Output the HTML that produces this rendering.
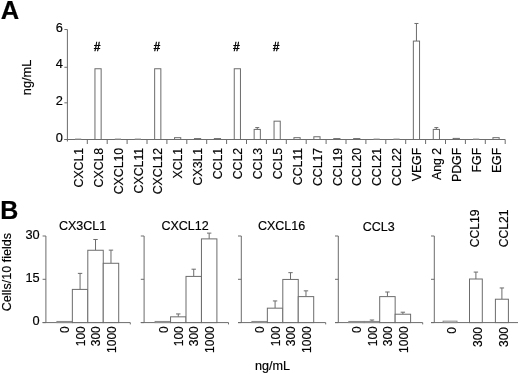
<!DOCTYPE html>
<html><head><meta charset="utf-8"><title>Figure</title>
<style>
html,body{margin:0;padding:0;background:#fff;}
svg{display:block;will-change:transform;}
text{font-family:"Liberation Sans",Arial,Helvetica,sans-serif;fill:#000;stroke:#000;stroke-width:0.18px;}
</style></head><body>
<svg width="520" height="374" viewBox="0 0 520 374">
<rect x="0" y="0" width="520" height="374" fill="#fff"/>
<text x="0.80" y="18.60" font-size="25.5" text-anchor="start" font-weight="bold">A</text>
<line x1="67.40" y1="29.50" x2="67.40" y2="141.50" stroke="#6c6c6c" stroke-width="1"/>
<line x1="64.40" y1="139.50" x2="67.40" y2="139.50" stroke="#6c6c6c" stroke-width="1"/>
<text x="62.90" y="141.80" font-size="12.8" text-anchor="end" font-weight="normal">0</text>
<line x1="64.40" y1="102.84" x2="67.40" y2="102.84" stroke="#6c6c6c" stroke-width="1"/>
<text x="62.90" y="105.14" font-size="12.8" text-anchor="end" font-weight="normal">2</text>
<line x1="64.40" y1="67.28" x2="67.40" y2="67.28" stroke="#6c6c6c" stroke-width="1"/>
<text x="62.90" y="68.48" font-size="12.8" text-anchor="end" font-weight="normal">4</text>
<line x1="64.40" y1="29.52" x2="67.40" y2="29.52" stroke="#6c6c6c" stroke-width="1"/>
<text x="62.90" y="31.82" font-size="12.8" text-anchor="end" font-weight="normal">6</text>
<line x1="64.40" y1="139.50" x2="505.20" y2="139.50" stroke="#6c6c6c" stroke-width="1"/>
<line x1="87.30" y1="139.50" x2="87.30" y2="144.00" stroke="#6c6c6c" stroke-width="1"/>
<line x1="75.05" y1="139.00" x2="81.25" y2="139.00" stroke="#999" stroke-width="1"/>
<text x="82.85" y="147.80" font-size="12.3" text-anchor="end" font-weight="normal" transform="rotate(-90 82.85 147.80)">CXCL1</text>
<line x1="107.20" y1="139.50" x2="107.20" y2="144.00" stroke="#6c6c6c" stroke-width="1"/>
<rect x="94.95" y="68.75" width="6.20" height="70.75" fill="#fff" stroke="#6c6c6c" stroke-width="1"/>
<text x="102.75" y="147.80" font-size="12.3" text-anchor="end" font-weight="normal" transform="rotate(-90 102.75 147.80)">CXCL8</text>
<line x1="127.10" y1="139.50" x2="127.10" y2="144.00" stroke="#6c6c6c" stroke-width="1"/>
<line x1="114.85" y1="139.00" x2="121.05" y2="139.00" stroke="#999" stroke-width="1"/>
<text x="122.65" y="147.80" font-size="12.3" text-anchor="end" font-weight="normal" transform="rotate(-90 122.65 147.80)">CXCL10</text>
<line x1="147.00" y1="139.50" x2="147.00" y2="144.00" stroke="#6c6c6c" stroke-width="1"/>
<line x1="134.75" y1="139.00" x2="140.95" y2="139.00" stroke="#999" stroke-width="1"/>
<text x="142.55" y="147.80" font-size="12.3" text-anchor="end" font-weight="normal" transform="rotate(-90 142.55 147.80)">CXCL11</text>
<line x1="166.90" y1="139.50" x2="166.90" y2="144.00" stroke="#6c6c6c" stroke-width="1"/>
<rect x="154.65" y="68.75" width="6.20" height="70.75" fill="#fff" stroke="#6c6c6c" stroke-width="1"/>
<text x="162.45" y="147.80" font-size="12.3" text-anchor="end" font-weight="normal" transform="rotate(-90 162.45 147.80)">CXCL12</text>
<line x1="186.80" y1="139.50" x2="186.80" y2="144.00" stroke="#6c6c6c" stroke-width="1"/>
<rect x="174.55" y="137.67" width="6.20" height="1.83" fill="#fff" stroke="#6c6c6c" stroke-width="1"/>
<text x="182.35" y="147.80" font-size="12.3" text-anchor="end" font-weight="normal" transform="rotate(-90 182.35 147.80)">XCL1</text>
<line x1="206.70" y1="139.50" x2="206.70" y2="144.00" stroke="#6c6c6c" stroke-width="1"/>
<rect x="194.45" y="138.58" width="6.20" height="0.92" fill="#fff" stroke="#6c6c6c" stroke-width="1"/>
<text x="202.25" y="147.80" font-size="12.3" text-anchor="end" font-weight="normal" transform="rotate(-90 202.25 147.80)">CX3L1</text>
<line x1="226.60" y1="139.50" x2="226.60" y2="144.00" stroke="#6c6c6c" stroke-width="1"/>
<rect x="214.35" y="138.58" width="6.20" height="0.92" fill="#fff" stroke="#6c6c6c" stroke-width="1"/>
<text x="222.15" y="147.80" font-size="12.3" text-anchor="end" font-weight="normal" transform="rotate(-90 222.15 147.80)">CCL1</text>
<line x1="246.50" y1="139.50" x2="246.50" y2="144.00" stroke="#6c6c6c" stroke-width="1"/>
<rect x="234.25" y="68.75" width="6.20" height="70.75" fill="#fff" stroke="#6c6c6c" stroke-width="1"/>
<text x="242.05" y="147.80" font-size="12.3" text-anchor="end" font-weight="normal" transform="rotate(-90 242.05 147.80)">CCL2</text>
<line x1="266.40" y1="139.50" x2="266.40" y2="144.00" stroke="#6c6c6c" stroke-width="1"/>
<line x1="257.25" y1="129.42" x2="257.25" y2="127.59" stroke="#6c6c6c" stroke-width="1"/>
<line x1="255.25" y1="127.59" x2="259.25" y2="127.59" stroke="#6c6c6c" stroke-width="1"/>
<rect x="254.15" y="129.42" width="6.20" height="10.08" fill="#fff" stroke="#6c6c6c" stroke-width="1"/>
<text x="261.95" y="147.80" font-size="12.3" text-anchor="end" font-weight="normal" transform="rotate(-90 261.95 147.80)">CCL3</text>
<line x1="286.30" y1="139.50" x2="286.30" y2="144.00" stroke="#6c6c6c" stroke-width="1"/>
<rect x="274.05" y="121.17" width="6.20" height="18.33" fill="#fff" stroke="#6c6c6c" stroke-width="1"/>
<text x="281.85" y="147.80" font-size="12.3" text-anchor="end" font-weight="normal" transform="rotate(-90 281.85 147.80)">CCL5</text>
<line x1="306.20" y1="139.50" x2="306.20" y2="144.00" stroke="#6c6c6c" stroke-width="1"/>
<rect x="293.95" y="137.67" width="6.20" height="1.83" fill="#fff" stroke="#6c6c6c" stroke-width="1"/>
<text x="301.75" y="147.80" font-size="12.3" text-anchor="end" font-weight="normal" transform="rotate(-90 301.75 147.80)">CCL11</text>
<line x1="326.10" y1="139.50" x2="326.10" y2="144.00" stroke="#6c6c6c" stroke-width="1"/>
<rect x="313.85" y="136.75" width="6.20" height="2.75" fill="#fff" stroke="#6c6c6c" stroke-width="1"/>
<text x="321.65" y="147.80" font-size="12.3" text-anchor="end" font-weight="normal" transform="rotate(-90 321.65 147.80)">CCL17</text>
<line x1="346.00" y1="139.50" x2="346.00" y2="144.00" stroke="#6c6c6c" stroke-width="1"/>
<rect x="333.75" y="138.58" width="6.20" height="0.92" fill="#fff" stroke="#6c6c6c" stroke-width="1"/>
<text x="341.55" y="147.80" font-size="12.3" text-anchor="end" font-weight="normal" transform="rotate(-90 341.55 147.80)">CCL19</text>
<line x1="365.90" y1="139.50" x2="365.90" y2="144.00" stroke="#6c6c6c" stroke-width="1"/>
<rect x="353.65" y="138.58" width="6.20" height="0.92" fill="#fff" stroke="#6c6c6c" stroke-width="1"/>
<text x="361.45" y="147.80" font-size="12.3" text-anchor="end" font-weight="normal" transform="rotate(-90 361.45 147.80)">CCL20</text>
<line x1="385.80" y1="139.50" x2="385.80" y2="144.00" stroke="#6c6c6c" stroke-width="1"/>
<line x1="373.55" y1="139.00" x2="379.75" y2="139.00" stroke="#999" stroke-width="1"/>
<text x="381.35" y="147.80" font-size="12.3" text-anchor="end" font-weight="normal" transform="rotate(-90 381.35 147.80)">CCL21</text>
<line x1="405.70" y1="139.50" x2="405.70" y2="144.00" stroke="#6c6c6c" stroke-width="1"/>
<line x1="393.45" y1="139.00" x2="399.65" y2="139.00" stroke="#999" stroke-width="1"/>
<text x="401.25" y="147.80" font-size="12.3" text-anchor="end" font-weight="normal" transform="rotate(-90 401.25 147.80)">CCL22</text>
<line x1="425.60" y1="139.50" x2="425.60" y2="144.00" stroke="#6c6c6c" stroke-width="1"/>
<line x1="416.45" y1="41.07" x2="416.45" y2="23.47" stroke="#6c6c6c" stroke-width="1"/>
<line x1="414.45" y1="23.47" x2="418.45" y2="23.47" stroke="#6c6c6c" stroke-width="1"/>
<rect x="413.35" y="41.07" width="6.20" height="98.43" fill="#fff" stroke="#6c6c6c" stroke-width="1"/>
<text x="421.15" y="147.80" font-size="12.3" text-anchor="end" font-weight="normal" transform="rotate(-90 421.15 147.80)">VEGF</text>
<line x1="445.50" y1="139.50" x2="445.50" y2="144.00" stroke="#6c6c6c" stroke-width="1"/>
<line x1="436.35" y1="129.42" x2="436.35" y2="127.59" stroke="#6c6c6c" stroke-width="1"/>
<line x1="434.35" y1="127.59" x2="438.35" y2="127.59" stroke="#6c6c6c" stroke-width="1"/>
<rect x="433.25" y="129.42" width="6.20" height="10.08" fill="#fff" stroke="#6c6c6c" stroke-width="1"/>
<text x="441.05" y="147.80" font-size="12.3" text-anchor="end" font-weight="normal" transform="rotate(-90 441.05 147.80)">Ang 2</text>
<line x1="465.40" y1="139.50" x2="465.40" y2="144.00" stroke="#6c6c6c" stroke-width="1"/>
<rect x="453.15" y="138.40" width="6.20" height="1.10" fill="#fff" stroke="#6c6c6c" stroke-width="1"/>
<text x="460.95" y="147.80" font-size="12.3" text-anchor="end" font-weight="normal" transform="rotate(-90 460.95 147.80)">PDGF</text>
<line x1="485.30" y1="139.50" x2="485.30" y2="144.00" stroke="#6c6c6c" stroke-width="1"/>
<line x1="473.05" y1="139.00" x2="479.25" y2="139.00" stroke="#999" stroke-width="1"/>
<text x="480.85" y="147.80" font-size="12.3" text-anchor="end" font-weight="normal" transform="rotate(-90 480.85 147.80)">FGF</text>
<line x1="505.20" y1="139.50" x2="505.20" y2="144.00" stroke="#6c6c6c" stroke-width="1"/>
<rect x="492.95" y="137.67" width="6.20" height="1.83" fill="#fff" stroke="#6c6c6c" stroke-width="1"/>
<text x="500.75" y="147.80" font-size="12.3" text-anchor="end" font-weight="normal" transform="rotate(-90 500.75 147.80)">EGF</text>
<text transform="translate(97.15 51.2) scale(0.86 1)" x="0" y="0" font-size="13.2" text-anchor="middle" style="stroke-width:0.5px">#</text>
<text transform="translate(156.85 51.2) scale(0.86 1)" x="0" y="0" font-size="13.2" text-anchor="middle" style="stroke-width:0.5px">#</text>
<text transform="translate(236.45 51.2) scale(0.86 1)" x="0" y="0" font-size="13.2" text-anchor="middle" style="stroke-width:0.5px">#</text>
<text transform="translate(276.25 51.2) scale(0.86 1)" x="0" y="0" font-size="13.2" text-anchor="middle" style="stroke-width:0.5px">#</text>
<text x="31.00" y="77.40" font-size="12.8" text-anchor="middle" font-weight="normal" transform="rotate(-90 31.00 77.40)">ng/mL</text>
<text x="0.30" y="218.70" font-size="25" text-anchor="start" font-weight="bold">B</text>
<text x="82.60" y="230.20" font-size="12.5" text-anchor="middle" font-weight="normal">CX3CL1</text>
<text x="185.00" y="230.10" font-size="12.5" text-anchor="middle" font-weight="normal">CXCL12</text>
<text x="281.60" y="230.00" font-size="12.5" text-anchor="middle" font-weight="normal">CXCL16</text>
<text x="378.70" y="230.60" font-size="12.5" text-anchor="middle" font-weight="normal">CCL3</text>
<line x1="45.90" y1="236.00" x2="45.90" y2="322.60" stroke="#6c6c6c" stroke-width="1"/>
<line x1="42.60" y1="322.60" x2="45.90" y2="322.60" stroke="#6c6c6c" stroke-width="1"/>
<text x="39.70" y="325.30" font-size="12.8" text-anchor="end" font-weight="normal">0</text>
<line x1="42.60" y1="279.30" x2="45.90" y2="279.30" stroke="#6c6c6c" stroke-width="1"/>
<text x="39.70" y="282.00" font-size="12.8" text-anchor="end" font-weight="normal">15</text>
<line x1="42.60" y1="236.00" x2="45.90" y2="236.00" stroke="#6c6c6c" stroke-width="1"/>
<text x="39.70" y="238.70" font-size="12.8" text-anchor="end" font-weight="normal">30</text>
<line x1="42.60" y1="322.60" x2="130.30" y2="322.60" stroke="#6c6c6c" stroke-width="1"/>
<line x1="130.30" y1="322.60" x2="130.30" y2="324.40" stroke="#6c6c6c" stroke-width="1"/>
<rect x="56.90" y="321.45" width="15.45" height="1.15" fill="#fff" stroke="#888" stroke-width="1"/>
<text x="69.33" y="326.20" font-size="12" text-anchor="end" font-weight="normal" transform="rotate(-90 69.33 326.20)">0</text>
<line x1="80.07" y1="289.40" x2="80.07" y2="273.38" stroke="#6c6c6c" stroke-width="1"/>
<line x1="77.87" y1="273.38" x2="82.27" y2="273.38" stroke="#6c6c6c" stroke-width="1"/>
<rect x="72.35" y="289.40" width="15.45" height="33.20" fill="#fff" stroke="#6c6c6c" stroke-width="1"/>
<text x="84.77" y="326.20" font-size="12" text-anchor="end" font-weight="normal" transform="rotate(-90 84.77 326.20)">100</text>
<line x1="95.52" y1="250.26" x2="95.52" y2="239.49" stroke="#6c6c6c" stroke-width="1"/>
<line x1="93.32" y1="239.49" x2="97.72" y2="239.49" stroke="#6c6c6c" stroke-width="1"/>
<rect x="87.80" y="250.26" width="15.45" height="72.34" fill="#fff" stroke="#6c6c6c" stroke-width="1"/>
<text x="100.22" y="326.20" font-size="12" text-anchor="end" font-weight="normal" transform="rotate(-90 100.22 326.20)">300</text>
<line x1="110.97" y1="263.28" x2="110.97" y2="250.14" stroke="#6c6c6c" stroke-width="1"/>
<line x1="108.77" y1="250.14" x2="113.17" y2="250.14" stroke="#6c6c6c" stroke-width="1"/>
<rect x="103.25" y="263.28" width="15.45" height="59.32" fill="#fff" stroke="#6c6c6c" stroke-width="1"/>
<text x="115.67" y="326.20" font-size="12" text-anchor="end" font-weight="normal" transform="rotate(-90 115.67 326.20)">1000</text>
<line x1="144.10" y1="236.00" x2="144.10" y2="322.60" stroke="#6c6c6c" stroke-width="1"/>
<line x1="140.80" y1="322.60" x2="144.10" y2="322.60" stroke="#6c6c6c" stroke-width="1"/>
<line x1="140.80" y1="279.30" x2="144.10" y2="279.30" stroke="#6c6c6c" stroke-width="1"/>
<line x1="140.80" y1="236.00" x2="144.10" y2="236.00" stroke="#6c6c6c" stroke-width="1"/>
<line x1="140.80" y1="322.60" x2="228.50" y2="322.60" stroke="#6c6c6c" stroke-width="1"/>
<line x1="228.50" y1="322.60" x2="228.50" y2="324.40" stroke="#6c6c6c" stroke-width="1"/>
<rect x="155.10" y="321.45" width="15.45" height="1.15" fill="#fff" stroke="#888" stroke-width="1"/>
<text x="167.53" y="326.20" font-size="12" text-anchor="end" font-weight="normal" transform="rotate(-90 167.53 326.20)">0</text>
<line x1="178.27" y1="316.83" x2="178.27" y2="313.94" stroke="#6c6c6c" stroke-width="1"/>
<line x1="176.07" y1="313.94" x2="180.47" y2="313.94" stroke="#6c6c6c" stroke-width="1"/>
<rect x="170.55" y="316.83" width="15.45" height="5.77" fill="#fff" stroke="#6c6c6c" stroke-width="1"/>
<text x="182.97" y="326.20" font-size="12" text-anchor="end" font-weight="normal" transform="rotate(-90 182.97 326.20)">100</text>
<line x1="193.72" y1="276.41" x2="193.72" y2="269.20" stroke="#6c6c6c" stroke-width="1"/>
<line x1="191.53" y1="269.20" x2="195.92" y2="269.20" stroke="#6c6c6c" stroke-width="1"/>
<rect x="186.00" y="276.41" width="15.45" height="46.19" fill="#fff" stroke="#6c6c6c" stroke-width="1"/>
<text x="198.43" y="326.20" font-size="12" text-anchor="end" font-weight="normal" transform="rotate(-90 198.43 326.20)">300</text>
<line x1="209.17" y1="238.89" x2="209.17" y2="233.11" stroke="#6c6c6c" stroke-width="1"/>
<line x1="206.97" y1="233.11" x2="211.37" y2="233.11" stroke="#6c6c6c" stroke-width="1"/>
<rect x="201.45" y="238.89" width="15.45" height="83.71" fill="#fff" stroke="#6c6c6c" stroke-width="1"/>
<text x="213.88" y="326.20" font-size="12" text-anchor="end" font-weight="normal" transform="rotate(-90 213.88 326.20)">1000</text>
<line x1="241.30" y1="236.00" x2="241.30" y2="322.60" stroke="#6c6c6c" stroke-width="1"/>
<line x1="238.00" y1="322.60" x2="241.30" y2="322.60" stroke="#6c6c6c" stroke-width="1"/>
<line x1="238.00" y1="279.30" x2="241.30" y2="279.30" stroke="#6c6c6c" stroke-width="1"/>
<line x1="238.00" y1="236.00" x2="241.30" y2="236.00" stroke="#6c6c6c" stroke-width="1"/>
<line x1="238.00" y1="322.60" x2="325.70" y2="322.60" stroke="#6c6c6c" stroke-width="1"/>
<line x1="325.70" y1="322.60" x2="325.70" y2="324.40" stroke="#6c6c6c" stroke-width="1"/>
<rect x="251.90" y="321.45" width="15.45" height="1.15" fill="#fff" stroke="#888" stroke-width="1"/>
<text x="264.32" y="326.20" font-size="12" text-anchor="end" font-weight="normal" transform="rotate(-90 264.32 326.20)">0</text>
<line x1="275.08" y1="308.17" x2="275.08" y2="300.95" stroke="#6c6c6c" stroke-width="1"/>
<line x1="272.88" y1="300.95" x2="277.28" y2="300.95" stroke="#6c6c6c" stroke-width="1"/>
<rect x="267.35" y="308.17" width="15.45" height="14.43" fill="#fff" stroke="#6c6c6c" stroke-width="1"/>
<text x="279.78" y="326.20" font-size="12" text-anchor="end" font-weight="normal" transform="rotate(-90 279.78 326.20)">100</text>
<line x1="290.53" y1="279.44" x2="290.53" y2="272.66" stroke="#6c6c6c" stroke-width="1"/>
<line x1="288.33" y1="272.66" x2="292.73" y2="272.66" stroke="#6c6c6c" stroke-width="1"/>
<rect x="282.80" y="279.44" width="15.45" height="43.16" fill="#fff" stroke="#6c6c6c" stroke-width="1"/>
<text x="295.23" y="326.20" font-size="12" text-anchor="end" font-weight="normal" transform="rotate(-90 295.23 326.20)">300</text>
<line x1="305.98" y1="296.62" x2="305.98" y2="290.85" stroke="#6c6c6c" stroke-width="1"/>
<line x1="303.78" y1="290.85" x2="308.18" y2="290.85" stroke="#6c6c6c" stroke-width="1"/>
<rect x="298.25" y="296.62" width="15.45" height="25.98" fill="#fff" stroke="#6c6c6c" stroke-width="1"/>
<text x="310.68" y="326.20" font-size="12" text-anchor="end" font-weight="normal" transform="rotate(-90 310.68 326.20)">1000</text>
<line x1="338.30" y1="236.00" x2="338.30" y2="322.60" stroke="#6c6c6c" stroke-width="1"/>
<line x1="335.00" y1="322.60" x2="338.30" y2="322.60" stroke="#6c6c6c" stroke-width="1"/>
<line x1="335.00" y1="279.30" x2="338.30" y2="279.30" stroke="#6c6c6c" stroke-width="1"/>
<line x1="335.00" y1="236.00" x2="338.30" y2="236.00" stroke="#6c6c6c" stroke-width="1"/>
<line x1="335.00" y1="322.60" x2="422.70" y2="322.60" stroke="#6c6c6c" stroke-width="1"/>
<line x1="422.70" y1="322.60" x2="422.70" y2="324.40" stroke="#6c6c6c" stroke-width="1"/>
<rect x="348.80" y="321.45" width="15.45" height="1.15" fill="#fff" stroke="#888" stroke-width="1"/>
<text x="361.23" y="326.20" font-size="12" text-anchor="end" font-weight="normal" transform="rotate(-90 361.23 326.20)">0</text>
<line x1="371.98" y1="321.45" x2="371.98" y2="320.00" stroke="#6c6c6c" stroke-width="1"/>
<line x1="369.78" y1="320.00" x2="374.18" y2="320.00" stroke="#6c6c6c" stroke-width="1"/>
<rect x="364.25" y="321.45" width="15.45" height="1.15" fill="#fff" stroke="#888" stroke-width="1"/>
<text x="376.68" y="326.20" font-size="12" text-anchor="end" font-weight="normal" transform="rotate(-90 376.68 326.20)">100</text>
<line x1="387.43" y1="296.62" x2="387.43" y2="292.00" stroke="#6c6c6c" stroke-width="1"/>
<line x1="385.23" y1="292.00" x2="389.62" y2="292.00" stroke="#6c6c6c" stroke-width="1"/>
<rect x="379.70" y="296.62" width="15.45" height="25.98" fill="#fff" stroke="#6c6c6c" stroke-width="1"/>
<text x="392.12" y="326.20" font-size="12" text-anchor="end" font-weight="normal" transform="rotate(-90 392.12 326.20)">300</text>
<line x1="402.88" y1="314.23" x2="402.88" y2="312.21" stroke="#6c6c6c" stroke-width="1"/>
<line x1="400.68" y1="312.21" x2="405.07" y2="312.21" stroke="#6c6c6c" stroke-width="1"/>
<rect x="395.15" y="314.23" width="15.45" height="8.37" fill="#fff" stroke="#6c6c6c" stroke-width="1"/>
<text x="407.57" y="326.20" font-size="12" text-anchor="end" font-weight="normal" transform="rotate(-90 407.57 326.20)">1000</text>
<line x1="434.30" y1="236.00" x2="434.30" y2="322.60" stroke="#6c6c6c" stroke-width="1"/>
<line x1="431.00" y1="322.60" x2="434.30" y2="322.60" stroke="#6c6c6c" stroke-width="1"/>
<line x1="431.00" y1="279.30" x2="434.30" y2="279.30" stroke="#6c6c6c" stroke-width="1"/>
<line x1="431.00" y1="236.00" x2="434.30" y2="236.00" stroke="#6c6c6c" stroke-width="1"/>
<line x1="431.00" y1="322.60" x2="518.00" y2="322.60" stroke="#6c6c6c" stroke-width="1"/>
<rect x="443.10" y="321.16" width="13.90" height="1.44" fill="#fff" stroke="#888" stroke-width="1"/>
<text x="455.85" y="327.00" font-size="12" text-anchor="end" font-weight="normal" transform="rotate(-90 455.85 327.00)">0</text>
<line x1="475.90" y1="279.01" x2="475.90" y2="272.08" stroke="#6c6c6c" stroke-width="1"/>
<line x1="473.70" y1="272.08" x2="478.10" y2="272.08" stroke="#6c6c6c" stroke-width="1"/>
<rect x="469.50" y="279.01" width="12.80" height="43.59" fill="#fff" stroke="#6c6c6c" stroke-width="1"/>
<text x="481.70" y="327.00" font-size="12" text-anchor="end" font-weight="normal" transform="rotate(-90 481.70 327.00)">300</text>
<line x1="501.90" y1="299.22" x2="501.90" y2="287.96" stroke="#6c6c6c" stroke-width="1"/>
<line x1="499.70" y1="287.96" x2="504.10" y2="287.96" stroke="#6c6c6c" stroke-width="1"/>
<rect x="495.40" y="299.22" width="13.00" height="23.38" fill="#fff" stroke="#6c6c6c" stroke-width="1"/>
<text x="507.70" y="327.00" font-size="12" text-anchor="end" font-weight="normal" transform="rotate(-90 507.70 327.00)">300</text>
<text x="478.80" y="247.30" font-size="12.2" text-anchor="start" font-weight="normal" transform="rotate(-90 478.80 247.30)">CCL19</text>
<text x="508.50" y="247.30" font-size="12.2" text-anchor="start" font-weight="normal" transform="rotate(-90 508.50 247.30)">CCL21</text>
<text x="10.90" y="272.10" font-size="12.6" text-anchor="middle" font-weight="normal" transform="rotate(-90 10.90 272.10)">Cells/10 fields</text>
<text x="255.00" y="370.20" font-size="12.6" text-anchor="start" font-weight="normal">ng/mL</text>
</svg>
</body></html>
